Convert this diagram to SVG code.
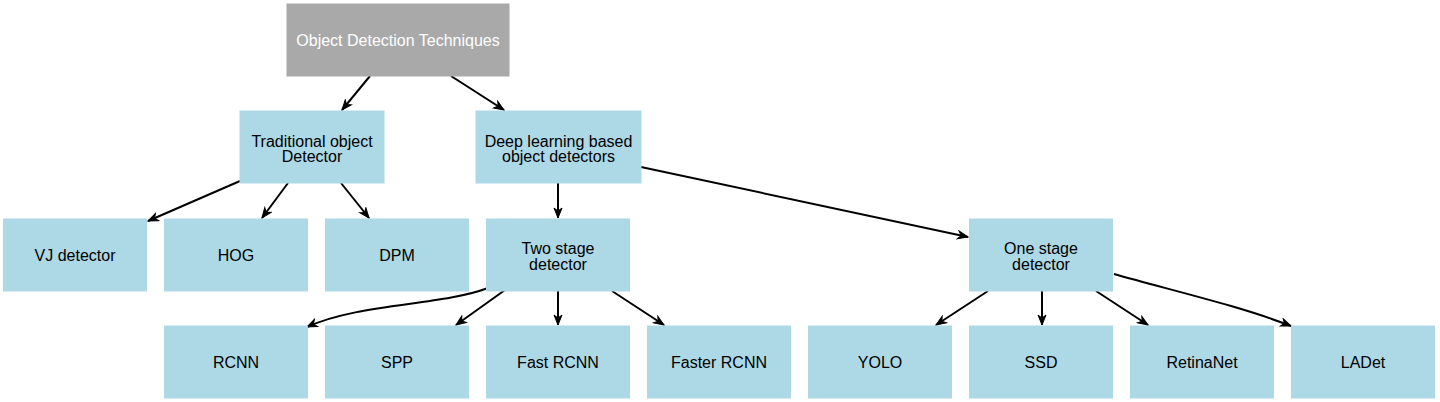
<svg xmlns="http://www.w3.org/2000/svg" width="1440" height="402" viewBox="0 0 1440 402">
<style>
.n{fill:#add8e6;stroke:#add8e6;stroke-width:1}
.root{fill:#a9a9a9;stroke:#a9a9a9;stroke-width:1}
text{font-family:"Liberation Sans",Arial,sans-serif;font-size:16px;text-anchor:middle;fill:#000}
.w{fill:#fff}
.e{fill:none;stroke:#000;stroke-width:2;marker-end:url(#a)}
</style>
<defs>
<marker id="a" markerWidth="12" markerHeight="10" refX="11" refY="5" orient="auto" markerUnits="userSpaceOnUse">
<path d="M1,1 L11,5 L1,9 L4,5 Z" fill="#000" stroke="#000" stroke-width="1" stroke-linejoin="miter"/>
</marker>
</defs>
<rect width="1440" height="402" fill="#fff"/>
<g id="edges">
<path class="e" d="M370,76 L342,110"/>
<path class="e" d="M451,76 L504,110"/>
<path class="e" d="M240,181 L148,221"/>
<path class="e" d="M288,183 L262,218"/>
<path class="e" d="M341,183 L369,218"/>
<path class="e" d="M558,183 L558,218"/>
<path class="e" d="M641,167 L968,237"/>
<path class="e" d="M488,288 C440,306 360,303 307,327"/>
<path class="e" d="M505,290 L456,325"/>
<path class="e" d="M558,291 L558,325"/>
<path class="e" d="M612,291 L664,325"/>
<path class="e" d="M988,291 L936,325"/>
<path class="e" d="M1042,291 L1042,325"/>
<path class="e" d="M1096,291 L1148,325"/>
<path class="e" d="M1114,274 C1170,290 1240,306 1291,326"/>
</g>
<g id="root"><rect class="root" x="287" y="4" width="222" height="72"/><text class="w" x="398" y="45.5">Object Detection Techniques</text></g>
<g id="traditional"><rect class="n" x="240" y="111" width="144" height="72"/><text x="312" y="146.5">Traditional object</text><text x="312" y="162">Detector</text></g>
<g id="deep"><rect class="n" x="476" y="111" width="165" height="72"/><text x="558.5" y="146.5">Deep learning based</text><text x="558.5" y="162">object detectors</text></g>
<g id="vj"><rect class="n" x="3.5" y="219" width="143" height="72"/><text x="75" y="260.5">VJ detector</text></g>
<g id="hog"><rect class="n" x="164.5" y="219" width="143" height="72"/><text x="236" y="260.5">HOG</text></g>
<g id="dpm"><rect class="n" x="325.5" y="219" width="143" height="72"/><text x="397" y="260.5">DPM</text></g>
<g id="twostage"><rect class="n" x="486.5" y="219" width="143" height="72"/><text x="558" y="254">Two stage</text><text x="558" y="269.5">detector</text></g>
<g id="onestage"><rect class="n" x="969.5" y="219" width="143" height="72"/><text x="1041" y="254">One stage</text><text x="1041" y="269.5">detector</text></g>
<g id="rcnn"><rect class="n" x="164.5" y="326" width="143" height="72"/><text x="236" y="367.5">RCNN</text></g>
<g id="spp"><rect class="n" x="325.5" y="326" width="143" height="72"/><text x="397" y="367.5">SPP</text></g>
<g id="fastrcnn"><rect class="n" x="486.5" y="326" width="143" height="72"/><text x="558" y="367.5">Fast RCNN</text></g>
<g id="fasterrcnn"><rect class="n" x="647.5" y="326" width="143" height="72"/><text x="719" y="367.5">Faster RCNN</text></g>
<g id="yolo"><rect class="n" x="808.5" y="326" width="143" height="72"/><text x="880" y="367.5">YOLO</text></g>
<g id="ssd"><rect class="n" x="969.5" y="326" width="143" height="72"/><text x="1041" y="367.5">SSD</text></g>
<g id="retinanet"><rect class="n" x="1130.5" y="326" width="143" height="72"/><text x="1202" y="367.5">RetinaNet</text></g>
<g id="ladet"><rect class="n" x="1291.5" y="326" width="143" height="72"/><text x="1363" y="367.5">LADet</text></g>
</svg>
